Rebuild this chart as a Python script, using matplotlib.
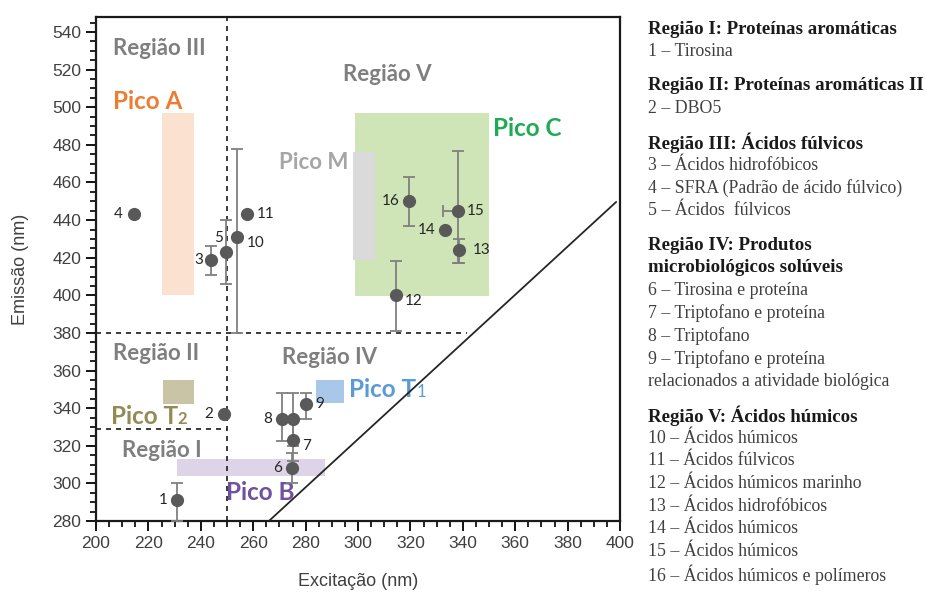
import matplotlib
matplotlib.use("Agg")
import matplotlib.pyplot as plt
from matplotlib.patches import Rectangle
from matplotlib.ticker import MultipleLocator

# ---- data ----
point_id = ["1", "2", "3", "4", "5", "6", "7", "8", "9", "10", "11", "12", "13", "14", "15", "16"]
excit = [231, 249, 244, 214.6, 249.5, 274.7, 275, 271, 280, 254, 257.5, 314.5, 338.5, 333.2, 338.3, 319.6]
emiss = [291, 337, 419, 443, 423, 308, 323, 334, 342, 431, 443, 400, 424, 435, 445, 450]
err_lo = [11, 0, 8, 0, 17, 8, 11, 11.5, 8, 51, 0, 19, 7, 0, 28, 13]
err_hi = [9, 0, 7, 0, 17, 8, 11, 14, 6, 47, 0, 18, 6, 0, 32, 13]
xerr_lo = [0, 0, 0, 0, 0, 0, 0, 0, 0, 0, 0, 0, 0, 0, 6, 0]
xerr_hi = [0] * 16

# unlabeled point next to 8
extra_ex = [275]
extra_em = [334]
extra_err = [14]

# peak boxes (ex0, ex1, em0, em1)
pico_name = ["Pico A", "Pico C", "Pico M", "Pico T2", "Pico T1", "Pico B"]
pico_ex0 = [225, 299, 298, 225.5, 284, 231]
pico_ex1 = [237.5, 350, 306.5, 237.5, 294.5, 287.5]
pico_em0 = [400, 399.5, 419, 342, 343, 304]
pico_em1 = [497, 497, 476, 355, 355, 313]
pico_fill = ["#fbe2d0", "#cfe5b7", "#dadada", "#c9c4a6", "#a9c7e9", "#ddd4e8"]

# region limits
ex_split = 250
em_split_hi = 380
em_split_lo = 329
em_hi_end = 341.5

# Rayleigh scatter line
scat_ex = [266, 398.5]
scat_em = [280, 449.6]

legend_lines = [
    ("Região I: Proteínas aromáticas", True),
    ("1 – Tirosina", False),
    ("Região II: Proteínas aromáticas II", True),
    ("2 – DBO5", False),
    ("Região III: Ácidos fúlvicos", True),
    ("3 – Ácidos hidrofóbicos", False),
    ("4 – SFRA (Padrão de ácido fúlvico)", False),
    ("5 – Ácidos  fúlvicos", False),
    ("Região IV: Produtos", True),
    ("microbiológicos solúveis", True),
    ("6 – Tirosina e proteína", False),
    ("7 – Triptofano e proteína", False),
    ("8 – Triptofano", False),
    ("9 – Triptofano e proteína", False),
    ("relacionados a atividade biológica", False),
    ("Região V: Ácidos húmicos", True),
    ("10 – Ácidos húmicos", False),
    ("11 – Ácidos fúlvicos", False),
    ("12 – Ácidos húmicos marinho", False),
    ("13 – Ácidos hidrofóbicos", False),
    ("14 – Ácidos húmicos", False),
    ("15 – Ácidos húmicos", False),
    ("16 – Ácidos húmicos e polímeros", False),
]

W, H = 925, 594
fig = plt.figure(figsize=(W / 100, H / 100), dpi=100)
ax = fig.add_axes([96 / W, 1 - 521 / H, 524 / W, 504 / H])

grey_txt = "#7f7f7f"
lbl_font = "Lato"

# boxes
for i in range(len(pico_name)):
    ax.add_patch(Rectangle((pico_ex0[i], pico_em0[i]), pico_ex1[i] - pico_ex0[i],
                           pico_em1[i] - pico_em0[i], facecolor=pico_fill[i],
                           edgecolor="none", zorder=1))

# dashed region borders
dash = dict(color="#1a1a1a", lw=1.2, linestyle=(0, (3, 3)), zorder=2)
ax.plot([ex_split, ex_split], [280, 548], **dash)
ax.plot([200, em_hi_end], [em_split_hi, em_split_hi], **dash)
ax.plot([200, ex_split], [em_split_lo, em_split_lo], **dash)

# region labels
reg = dict(fontsize=16, fontweight="bold", color=grey_txt, family=lbl_font,
           va="center", ha="left", zorder=3)
ax.text(206.5, 531, "Região III", **reg)
ax.text(294.3, 517.5, "Região V", **reg)
ax.text(206.3, 369.3, "Região II", **reg)
ax.text(270.9, 367.2, "Região IV", **reg)
ax.text(209.8, 317.5, "Região I", **reg)

pk = dict(fontsize=17.5, fontweight="bold", family=lbl_font, va="center", ha="left", zorder=3)
ax.text(206.3, 503, "Pico A", color="#ed7d31", **pk)
ax.text(270, 470.5, "Pico M", color="#a6a6a6", fontsize=16, fontweight="bold",
        family=lbl_font, va="center", ha="left", zorder=3)
ax.text(351.4, 488.7, "Pico C", color="#1faa55", **pk)
ax.text(249.6, 295, "Pico B", color="#6f51a0", **pk)
t2 = ax.text(205.6, 335.6, "Pico T", color="#948a54", **pk)
ax.annotate("2", xy=(1, 0), xycoords=t2, xytext=(0, 1), textcoords="offset points",
            ha="left", va="bottom", fontsize=12, fontweight="bold", family=lbl_font,
            color="#948a54", zorder=3)
t1 = ax.text(296.7, 349.8, "Pico T", color="#5b9bd5", **pk)
ax.annotate("1", xy=(1, 0), xycoords=t1, xytext=(0, 1), textcoords="offset points",
            ha="left", va="bottom", fontsize=12, family=lbl_font,
            color="#5b9bd5", zorder=3)

# error bars + points
ax.errorbar(excit, emiss, yerr=[err_lo, err_hi], xerr=[xerr_lo, xerr_hi], fmt="none",
            ecolor="#808080", elinewidth=1.3, capsize=4.5, capthick=1.3, zorder=4)
ax.errorbar(extra_ex, extra_em, yerr=extra_err, fmt="none",
            ecolor="#808080", elinewidth=1.3, capsize=4.5, capthick=1.3, zorder=4)
ax.plot(excit, emiss, "o", ms=9.5, color="#595959", mec="none", zorder=5)
ax.plot(extra_ex, extra_em, "o", ms=9.5, color="#595959", mec="none", zorder=5)

offs = [(-7, 0), (-8, 0), (-6, 0), (-8, 0), (-2, 10), (-7, 0), (7, -4), (-7, 0),
        (7, 0), (7, -4), (7, 0), (6, -4), (10, 0), (-7, 0), (6, 0), (-7, 0)]
for i, lab in enumerate(point_id):
    dx, dy = offs[i]
    ax.annotate(lab, (excit[i], emiss[i]), xytext=(dx, dy), textcoords="offset points",
                ha="left" if dx > 0 else "right", va="center", fontsize=11,
                family=lbl_font, color="#262626", zorder=6)

ax.plot(scat_ex, scat_em, color="#262626", lw=1.3, zorder=6)

ax.set_xlim(200, 400)
ax.set_ylim(280, 548)
ax.set_xticks(range(200, 401, 20))
ax.set_yticks(range(280, 541, 20))
ax.xaxis.set_minor_locator(MultipleLocator(5))
ax.yaxis.set_minor_locator(MultipleLocator(5))
ax.tick_params(which="major", direction="out", length=7, width=1.3,
               labelsize=12.5, labelcolor="#404040")
ax.tick_params(which="minor", direction="out", length=4, width=1.2)
for lab in ax.get_xticklabels() + ax.get_yticklabels():
    lab.set_family("Liberation Sans")
for s in ax.spines.values():
    s.set_linewidth(1.6)
    s.set_color("#1a1a1a")

ax.set_xlabel("Excitação (nm)", fontsize=13, color="#404040", family="Liberation Sans",
              labelpad=16)
ax.set_ylabel("Emissão (nm)", fontsize=13, color="#404040", family="Liberation Sans",
              labelpad=17)

# side legend
y = 29
for k, (txt, bold) in enumerate(legend_lines):
    if bold and k > 0 and not legend_lines[k - 1][1]:
        y += 11.5
    fig.text(648 / W, 1 - y / H, txt, fontsize=13.6 if bold else 12.8,
             family="Liberation Serif",
             fontweight="bold" if bold else "normal",
             color="#1a1a1a" if bold else "#404040", va="center", ha="left")
    y += 22.7

fig.savefig("out.png", dpi=100)
